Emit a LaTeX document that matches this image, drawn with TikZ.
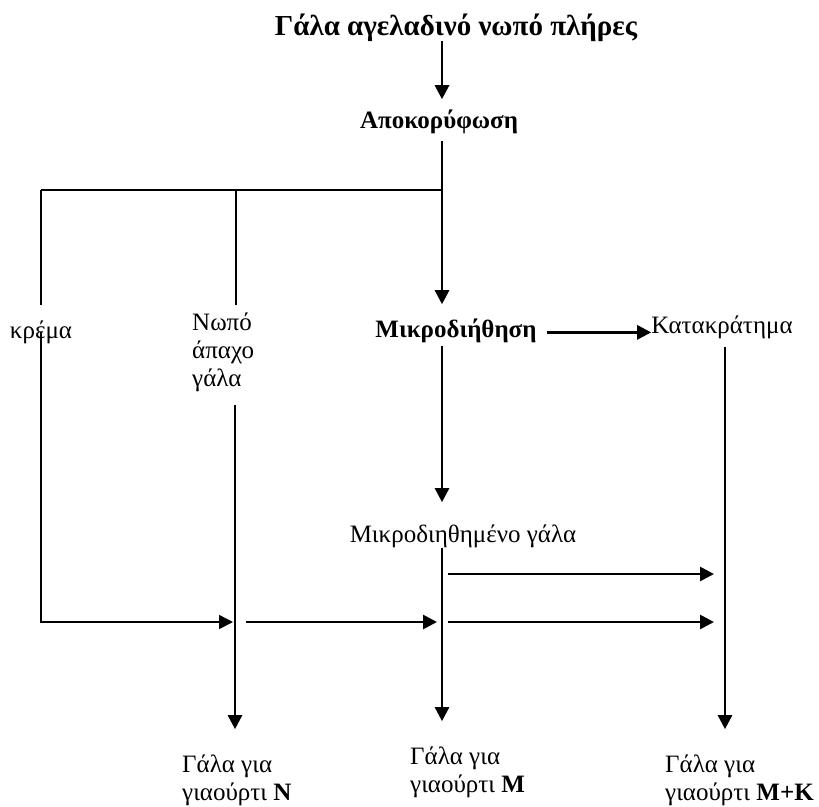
\documentclass[tikz,border=0pt]{standalone}
\usepackage{fontspec}
\setmainfont{Liberation Serif}
\usetikzlibrary{arrows.meta,calc,positioning}

\begin{document}
\begin{tikzpicture}[x=1pt, y=-1pt, >={Triangle[length=14pt,width=14pt]},
		txt/.style={inner sep=0pt, font=\fontsize{25}{28}\selectfont},
		bld/.style={inner sep=0pt, font=\fontsize{25}{28}\selectfont\bfseries},
		thn/.style={line width=1.6pt},
		thk/.style={line width=2.7pt}]
		\useasboundingbox (0,0) rectangle (819,806);

		%coordinates
		\coordinate (Ca) at (41,190);
		\coordinate (Cb) at (236,190);
		\coordinate (Cc) at (442,190);
		\coordinate (Cd) at (725,190);

		\coordinate (Jb) at (235,622);
		\coordinate (Jc) at (443,622);
		\coordinate (Jd) at (725,622);
		\coordinate (Je) at (443,574);
		\coordinate (Jf) at (725,574);

		%nodes
		\node[bld, anchor=base, font=\fontsize{29}{32}\selectfont\bfseries] (Milk) at (456,35) {Γάλα αγελαδινό νωπό πλήρες};
		\node[bld, anchor=base] (Skim) at (439,128) {Αποκορύφωση};
		\node[txt, anchor=base] (Cream) at (41,338) {κρέμα};
		\node[txt, anchor=base west, align=left] (Fresh) at (192,386) {Νωπό\\άπαχο\\γάλα};
		\node[bld, anchor=base] (MF) at (456,337) {Μικροδιήθηση};
		\node[txt, anchor=base] (Ret) at (722,333) {Κατακράτημα};
		\node[txt, anchor=base] (Perm) at (463,542) {Μικροδιηθημένο γάλα};
		\node[txt, anchor=base west, align=left] (YN) at (182,800) {Γάλα για\\γιαούρτι \textbf{N}};
		\node[txt, anchor=base west, align=left] (YM) at (410,792) {Γάλα για\\γιαούρτι \textbf{M}};
		\node[txt, anchor=base west, align=left] (YMK) at (665,800) {Γάλα για\\γιαούρτι \textbf{M+K}};

		%separation
		\draw[thk,->] (Milk.south -| Cc) -- ($(Skim.north -| Cc) + (0,-10)$);
		\draw[thk,->, shorten <=7pt, shorten >=14pt] (Skim.south -| Cc) -- (MF.north -| Cc);
		\draw[thn] (Ca) -- (Cc);
		\draw[thn, shorten >=15pt] (Ca) -- (Cream.north -| Ca);
		\draw[thn, shorten >=7pt] (Cb) -- (Fresh.north -| Cb);

		%microfiltration
		\draw[thk,->, shorten <=10pt] ($(MF.east) + (0,2)$) -- ($(MF.east -| Ret.west) + (0,2)$);
		\draw[thk,->, shorten <=3pt, shorten >=22pt] (MF.south -| Cc) -- (Perm.north -| Cc);

		%mixing
		\draw[thn,->, shorten >=2pt] ($(Cream.base) + (0,-6)$) |- (Jb);
		\draw[thk,->, shorten <=11pt, shorten >=6pt] (Jb) -- (Jc);
		\draw[thk,->, shorten <=5pt, shorten >=11pt] (Jc) -- (Jd);
		\draw[thk,->, shorten <=5pt, shorten >=11pt] (Je) -- (Jf);

		%products
		\draw[thk,->, shorten <=13pt, shorten >=25pt] (Fresh.south -| Jb) -- (YN.north -| Jb);
		\draw[thk,->, shorten >=25pt] (Perm.south -| Cc) -- (YM.north -| Cc);
		\draw[thk,->, shorten <=8pt, shorten >=25pt] (Ret.south -| Cd) -- (YMK.north -| Cd);
\end{tikzpicture}
\end{document}
